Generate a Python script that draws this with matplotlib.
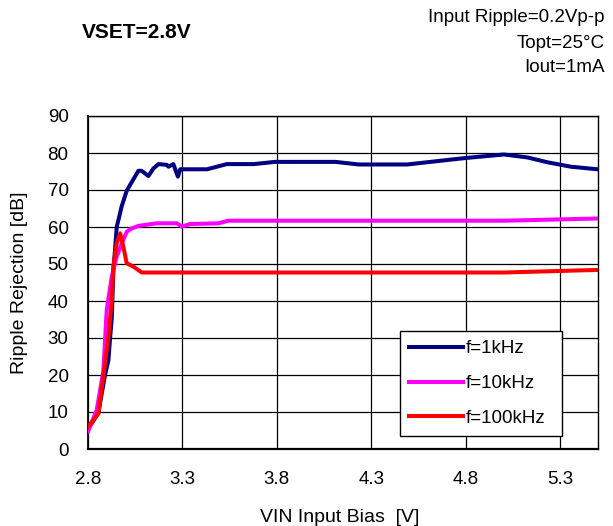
import matplotlib
matplotlib.use("Agg")
import matplotlib.pyplot as plt

plt.rcParams['font.family'] = ['Liberation Sans', 'DejaVu Sans']

# Data
x_1k = [2.80, 2.855, 2.89, 2.908, 2.917, 2.926, 2.934, 2.943, 2.952, 2.979, 3.005, 3.03,
        3.067, 3.083, 3.12, 3.146, 3.173, 3.217, 3.226, 3.252, 3.276, 3.288, 3.43, 3.535,
        3.677, 3.79, 4.11, 4.233, 4.49, 4.79, 5.002, 5.126, 5.232, 5.356, 5.497]
y_1k = [5.3, 9.8, 20.0, 24.0, 30.0, 35.5, 48.0, 53.8, 60.0, 65.7, 69.8, 72.0,
        75.2, 75.2, 73.8, 75.8, 77.0, 76.8, 76.3, 77.0, 73.6, 75.6, 75.6, 77.0,
        77.0, 77.6, 77.6, 76.9, 76.9, 78.6, 79.6, 78.8, 77.5, 76.3, 75.6]

x_10k = [2.80, 2.846, 2.881, 2.899, 2.926, 2.952, 2.979, 3.005, 3.03, 3.067, 3.164,
         3.27, 3.297, 3.34, 3.49, 3.544, 3.83, 4.5, 5.0, 5.5]
y_10k = [4.7, 10.5, 21.0, 37.6, 46.6, 52.0, 55.6, 58.7, 59.6, 60.3, 61.0,
         61.0, 60.1, 60.8, 61.0, 61.7, 61.7, 61.7, 61.7, 62.3]

x_100k = [2.80, 2.855, 2.881, 2.908, 2.926, 2.934, 2.952, 2.97, 2.987, 3.005, 3.04,
          3.085, 3.5, 4.5, 5.0, 5.5]
y_100k = [6.0, 9.6, 19.5, 30.4, 40.3, 49.3, 55.6, 58.3, 54.7, 50.2, 49.3,
          47.7, 47.7, 47.7, 47.7, 48.4]

labels = ['f=1kHz', 'f=10kHz', 'f=100kHz']
colors = ['#000080', '#FF00FF', '#FF0000']
x_ticks = [2.8, 3.3, 3.8, 4.3, 4.8, 5.3]
y_ticks = [0, 10, 20, 30, 40, 50, 60, 70, 80, 90]

fig = plt.figure(figsize=(6.13, 5.26), dpi=100)
ax = fig.add_axes([88/613, 1 - 449/526, (598-88)/613, (449-116)/526])

for xs, ys, c, lab in [(x_1k, y_1k, colors[0], labels[0]),
                       (x_10k, y_10k, colors[1], labels[1]),
                       (x_100k, y_100k, colors[2], labels[2])]:
    ax.plot(xs, ys, color=c, lw=2.9, label=lab, solid_joinstyle='round', zorder=3)

ax.set_xlim(2.8, 5.5)
ax.set_ylim(0, 90)
ax.set_xticks(x_ticks)
ax.set_xticklabels([f"{v:.1f}" for v in x_ticks])
ax.set_yticks(y_ticks)
ax.tick_params(axis='both', length=0, labelsize=13.5)
ax.tick_params(axis='x', pad=16)
ax.tick_params(axis='y', pad=14)
ax.grid(True, color='black', lw=0.9)
for s in ax.spines.values():
    s.set_color('black')
    s.set_linewidth(1.0)
ax.spines['bottom'].set_linewidth(1.6)
ax.spines['left'].set_linewidth(1.3)

ax.set_xlabel('VIN Input Bias  [V]', fontsize=14)
ax.set_ylabel('Ripple Rejection [dB]', fontsize=14)
ax.xaxis.set_label_coords((340-88)/510, -(517-449)/333)
ax.yaxis.set_label_coords((20-88)/510, 0.5)
ax.xaxis.label.set_va('center')
ax.yaxis.label.set_va('center')

leg = ax.legend(loc='lower left', bbox_to_anchor=((400-88)/510, (449-436)/333, (562-400)/510, (436-331)/333),
                mode='expand', fontsize=13.5, frameon=True, fancybox=False, edgecolor='black',
                handlelength=2.9, handletextpad=0.15, labelspacing=0.95, borderaxespad=0,
                borderpad=0.48)
leg.get_frame().set_linewidth(1.0)
leg.get_frame().set_alpha(1)

fig.text(82/613, 1 - 33/526, 'VSET=2.8V', fontsize=15, fontweight='bold', va='center', ha='left')
fig.text(605/613, 1 - 18/526, 'Input Ripple=0.2Vp-p', fontsize=13.5, va='center', ha='right')
fig.text(605/613, 1 - 43/526, 'Topt=25°C', fontsize=13.5, va='center', ha='right')
fig.text(605/613, 1 - 67/526, 'Iout=1mA', fontsize=13.5, va='center', ha='right')

fig.savefig('out.png', dpi=100)
